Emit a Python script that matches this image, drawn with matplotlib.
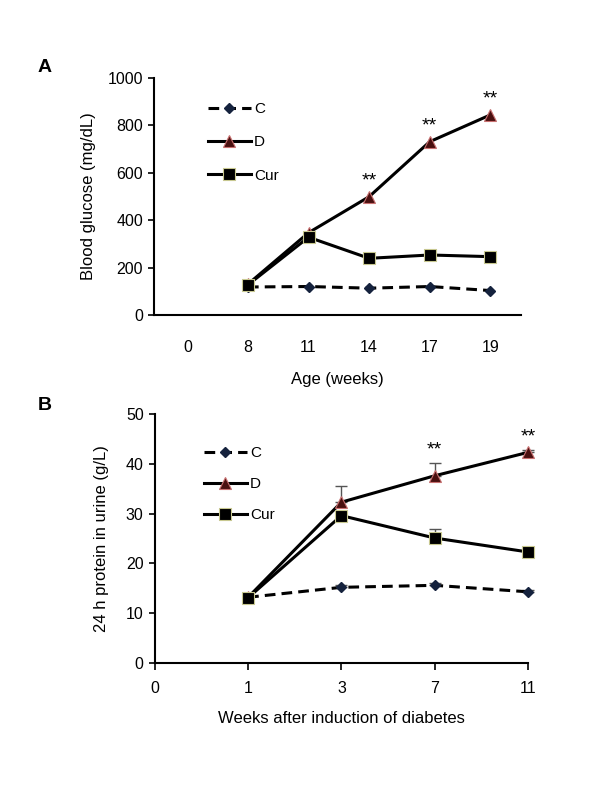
import matplotlib
matplotlib.use("Agg")
import matplotlib.pyplot as plt
import numpy as np

plt.rcParams['font.family'] = ['Liberation Sans', 'DejaVu Sans']

# Panel A data
a_labels = ["0", "8", "11", "14", "17", "19"]
a_pos_c = [1, 2, 3, 4, 5]
a_C = [118, 120, 113, 120, 103]
a_D = [130, 347, 499, 731, 844]
a_Cur = [127, 328, 239, 253, 246]
a_star_idx = [2, 3, 4]  # index into series for D stars

# Panel B data
b_labels = ["0", "1", "3", "7", "11"]
b_pos = [1, 2, 3, 4]
b_C = [13.2, 15.2, 15.6, 14.3]
b_C_err = [0.4, 0.5, 0.4, 0.3]
b_D = [13.2, 32.3, 37.6, 42.3]
b_D_err = [0.8, 3.2, 2.5, 0.4]
b_Cur = [13.1, 29.6, 25.1, 22.3]
b_Cur_err = [0.6, 0.8, 1.8, 0.4]
b_star_idx = [2, 3]

fig = plt.figure(figsize=(6, 7.88), dpi=100)

c_style = dict(color='black', ls=(0, (3.5, 2)), lw=2.2, marker='D', ms=5.5,
               mfc='#15223d', mec='#15223d', clip_on=False)
d_style = dict(color='black', ls='-', lw=2.2, marker='^', ms=8.5,
               mfc='#4a1010', mec='#c87070', mew=0.8, clip_on=False)
cur_style = dict(color='black', ls='-', lw=2.2, marker='s', ms=8,
                 mfc='black', mec='#c8c890', mew=0.8, clip_on=False)

def style_axes(ax):
    for s in ['top', 'right']:
        ax.spines[s].set_visible(False)
    for s in ['left', 'bottom']:
        ax.spines[s].set_linewidth(1.5)
    ax.tick_params(axis='y', direction='out', length=4, width=1.2, labelsize=11.5, pad=4)

# ---------- Panel A ----------
axA = fig.add_axes([0.2567, 0.6003, 0.611, 0.3008])
style_axes(axA)
hC, = axA.plot(a_pos_c, a_C, **c_style, zorder=2)
hD, = axA.plot(a_pos_c, a_D, **d_style, zorder=3)
hCur, = axA.plot(a_pos_c, a_Cur, **cur_style, zorder=4)
axA.set_xlim(-0.55, 5.5)
axA.set_ylim(0, 1000)
axA.set_yticks(np.arange(0, 1001, 200))
axA.set_xticks(range(len(a_labels)))
axA.set_xticklabels(a_labels)
axA.tick_params(axis='x', length=0, labelsize=11.5, pad=18)
for i in a_star_idx:
    axA.text(a_pos_c[i], a_D[i] + 30, "**", ha='center', va='bottom', fontsize=14)
axA.set_ylabel("Blood glucose (mg/dL)", fontsize=12, labelpad=8)
axA.set_xlabel("Age (weeks)", fontsize=12, labelpad=12)
axA.legend(handles=[hC, hD, hCur], labels=["C", "D", "Cur"], loc='upper left',
           bbox_to_anchor=(0.11, 0.955), frameon=False, fontsize=11,
           handlelength=2.8, handletextpad=0.2, labelspacing=1.25)
fig.text(0.063, 0.914, "A", fontsize=14, fontweight='bold', ha='left', va='center')

# ---------- Panel B ----------
axB = fig.add_axes([0.258, 0.1586, 0.622, 0.316])
style_axes(axB)
ecap = dict(ecolor='#555555', elinewidth=1.0, capsize=4, capthick=1.0)
for vals, errs in [(b_C, b_C_err), (b_D, b_D_err), (b_Cur, b_Cur_err)]:
    eb = axB.errorbar(b_pos, vals, yerr=[np.zeros(len(vals)), errs], fmt='none', zorder=1, **ecap)
    for art in eb.lines[1] + eb.lines[2]:
        art.set_clip_on(False)
hC2, = axB.plot(b_pos, b_C, **c_style, zorder=2)
hD2, = axB.plot(b_pos, b_D, **d_style, zorder=3)
hCur2, = axB.plot(b_pos, b_Cur, **cur_style, zorder=4)
axB.set_xlim(0, 4)
axB.set_ylim(0, 50)
axB.set_yticks(np.arange(0, 51, 10))
axB.set_xticks(range(len(b_labels)))
axB.set_xticklabels(b_labels)
axB.tick_params(axis='x', direction='out', length=5, width=1.2, labelsize=11.5, pad=8)
for i in b_star_idx:
    axB.text(b_pos[i], b_D[i] + b_D_err[i] + 1.0, "**", ha='center', va='bottom', fontsize=14)
axB.set_ylabel("24 h protein in urine (g/L)", fontsize=12, labelpad=12)
axB.set_xlabel("Weeks after induction of diabetes", fontsize=12, labelpad=11)
axB.legend(handles=[hC2, hD2, hCur2], labels=["C", "D", "Cur"], loc='upper left',
           bbox_to_anchor=(0.095, 0.925), frameon=False, fontsize=11,
           handlelength=2.8, handletextpad=0.2, labelspacing=1.1)
fig.text(0.063, 0.486, "B", fontsize=14, fontweight='bold', ha='left', va='center')

fig.savefig("out.png", dpi=100)
